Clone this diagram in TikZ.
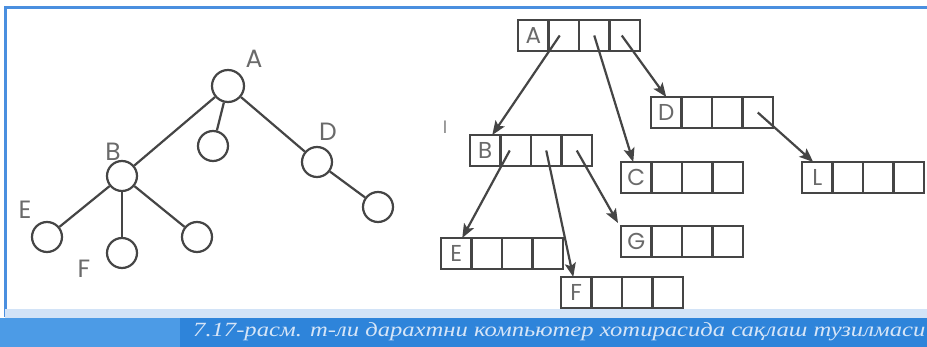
\documentclass[tikz,border=0pt]{standalone}
\usepackage{fontspec}
\setmainfont{Liberation Serif}
\newfontfamily\lblfont{Poppins}
\newfontfamily\capfont{Liberation Serif}
\usetikzlibrary{arrows.meta,positioning,calc}
\definecolor{ink}{HTML}{454545}
\definecolor{lbl}{HTML}{6A6A6A}
\definecolor{frameblue}{HTML}{4A8FDF}
\definecolor{banddark}{HTML}{2E84DA}
\definecolor{bandlight}{HTML}{4C9BE6}
\definecolor{capwhite}{HTML}{D6E5F7}
\newcommand\mkrec[3]{%
  \node[cell] (#1-1) at (#2) {\lblfont\fontsize{23}{23}\selectfont #3};
  \node[cell,right=0pt of #1-1] (#1-2) {};
  \node[cell,right=0pt of #1-2] (#1-3) {};
  \node[cell,right=0pt of #1-3] (#1-4) {};
}
\begin{document}
\begin{tikzpicture}[x=1pt,y=-1pt,
  circ/.style={circle,draw=ink,line width=2.2pt,minimum size=30pt,inner sep=0pt},
  bigcirc/.style={circ,minimum size=32pt},
  edge/.style={draw=ink,line width=2.2pt},
  cell/.style={rectangle,draw=ink,line width=2.2pt,minimum width=30.5pt,minimum height=31pt,inner sep=0pt,outer sep=0pt,text=lbl},
  ptr/.style={draw=ink,line width=2.2pt,-{Stealth[length=14pt,width=11pt,inset=3pt]}},
  tlabel/.style={text=lbl,font=\lblfont\fontsize{25}{25}\selectfont,inner sep=0pt}]
\useasboundingbox (0,0) rectangle (927,347);
\fill[white] (0,0) rectangle (927,347);
% frame
\draw[frameblue,line width=3pt] (5,317) -- (5,8) -- (927,8);
\fill[frameblue!25] (5,309) rectangle (927,318);
\fill[banddark] (0,318) rectangle (927,347);
\fill[bandlight] (0,318) rectangle (180,347);
\node[anchor=west,inner sep=0pt,text=capwhite] (cap) at (193,332)
  {\resizebox{732pt}{14pt}{\capfont\itshape 7.17-расм. m-ли дарахтни компьютер хотирасида сақлаш тузилмаси}};
% tree
\node[bigcirc] (tA) at (228,86) {};
\node[circ] (tM) at (213,146) {};
\node[circ] (tD) at (317,162) {};
\node[circ] (tL) at (378,207) {};
\node[circ] (tB) at (122,176) {};
\node[circ] (tE) at (47,237) {};
\node[circ] (tF) at (122,253) {};
\node[circ] (tG) at (197,237) {};
\draw[edge] (tA) -- (tB);
\draw[edge] (tA) -- (tM);
\draw[edge] (tA) -- (tD);
\draw[edge] (tD) -- (tL);
\draw[edge] (tB) -- (tE);
\draw[edge] (tB) -- (tF);
\draw[edge] (tB) -- (tG);
\node[tlabel] (lA) at (254,59) {A};
\node[tlabel] (lB) at (113,152) {B};
\node[tlabel] (lD) at (328,132) {D};
\node[tlabel] (lE) at (25,210) {E};
\node[tlabel] (lF) at (84,269) {F};
% records
\mkrec{A}{533.25,35.5}{A}
\mkrec{B}{485.25,150.5}{B}
\mkrec{C}{636.25,177.5}{C}
\mkrec{D}{666.25,112.5}{D}
\mkrec{L}{817.25,177.5}{L}
\mkrec{G}{636.25,241.5}{G}
\mkrec{E}{456.25,253.5}{E}
\mkrec{F}{576.25,292.5}{F}
\node[text=lbl!80,font=\lblfont\fontsize{18}{18}\selectfont,inner sep=0pt] (stray) at (445,127) {I};
% pointers
\draw[ptr] ([xshift=-4pt]A-2.center) -- ([xshift=7pt]B-1.north);
\draw[ptr] (A-3.center) -- ([xshift=-3pt]C-1.north);
\draw[ptr] ([xshift=-3pt]A-4.center) -- (D-1.north);
\draw[ptr] ([xshift=-6pt]B-2.center) -- ([xshift=6pt]E-1.north);
\draw[ptr] (B-3.center) -- ([xshift=-3pt]F-1.north);
\draw[ptr] (B-4.center) -- ([xshift=-3pt,yshift=3pt]G-1.north west);
\draw[ptr] (D-4.center) -- ([xshift=-4pt]L-1.north);
\end{tikzpicture}
\end{document}
